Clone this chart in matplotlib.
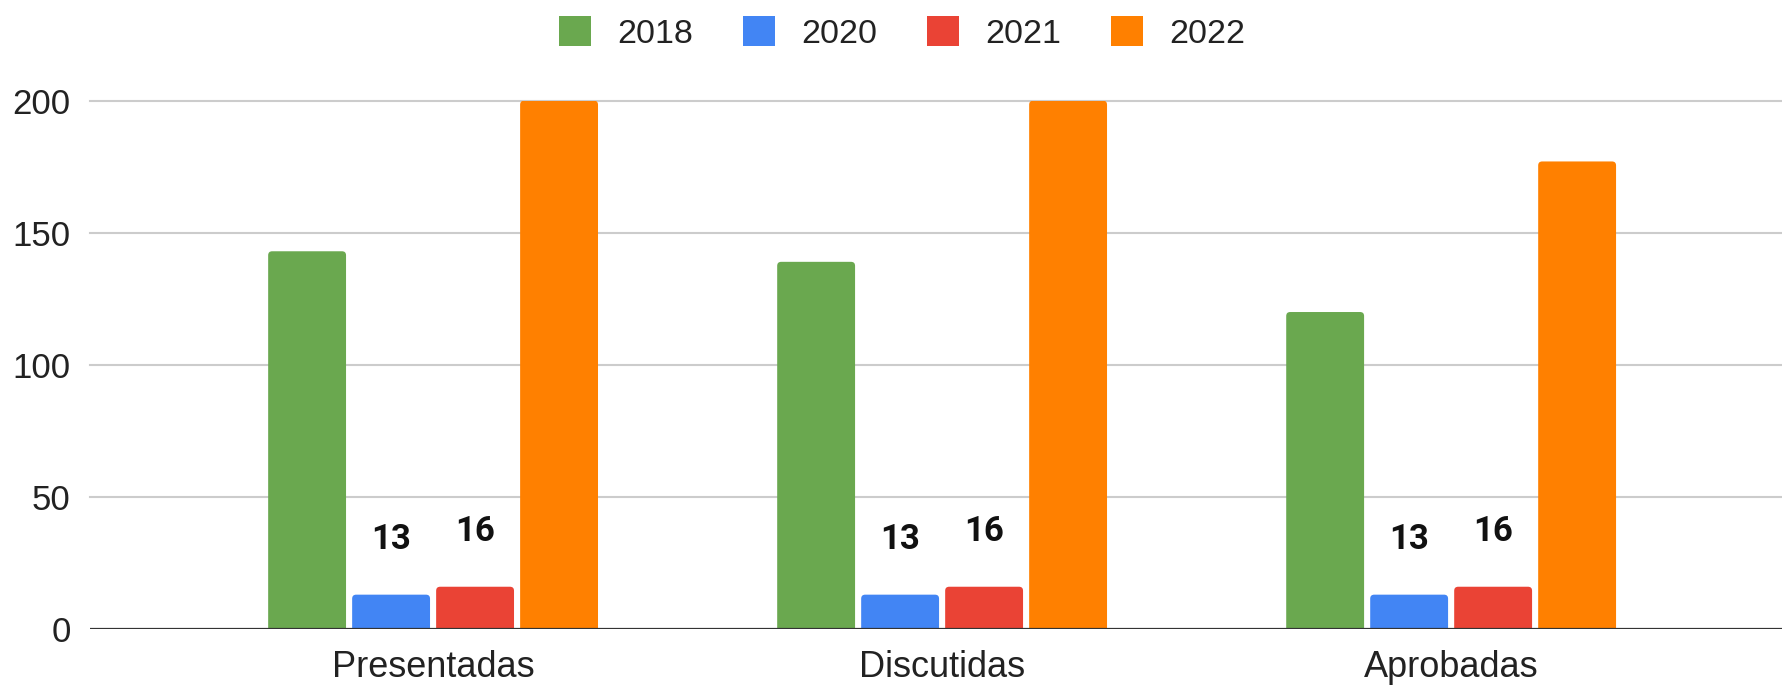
import matplotlib
matplotlib.use("Agg")
import matplotlib.pyplot as plt
from matplotlib.patches import FancyBboxPatch, Patch
import numpy as np

categories = ["Presentadas", "Discutidas", "Aprobadas"]
series_names = ["2018", "2020", "2021", "2022"]
v2018 = [143, 139, 120]
v2020 = [13, 13, 13]
v2021 = [16, 16, 16]
v2022 = [200, 200, 177]
labelled = ["2020", "2021"]
colors = ["#6aa84f", "#4285f4", "#ea4335", "#ff8000"]
yticks = [0, 50, 100, 150, 200]

values = [v2018, v2020, v2021, v2022]

fig = plt.figure(figsize=(17.82, 6.88), dpi=100)
ax = fig.add_axes([90/1782, 59/688, 1 - 90/1782, (688 - 100.7 - 59)/688])

x = np.arange(len(categories))
step = 0.165
width = 0.153
ax.set_ylim(0, 200)
ax.set_xlim(-0.674, 2.650)

px_x = (1782 - 90) / (2.650 + 0.674)
px_y = (688 - 100.7 - 59) / 200.0
radius_px = 4
rs = radius_px / px_x
aspect = px_x / px_y

for i, (name, vals, col) in enumerate(zip(series_names, values, colors)):
    bars = ax.bar(x + (i - 1.5) * step, vals, width, color=col, label=name, zorder=3)
    for r in bars:
        r.set_visible(False)
        p = FancyBboxPatch((r.get_x(), -5), r.get_width(), r.get_height() + 5,
                           boxstyle=f"round,pad=0,rounding_size={rs}",
                           mutation_aspect=aspect, facecolor=col, edgecolor="none",
                           zorder=3)
        ax.add_patch(p)
        if name in labelled:
            ax.annotate(f"{int(r.get_height())}", (r.get_x() + r.get_width()/2, r.get_height()),
                        xytext=(0, 40), textcoords="offset points", ha="center", va="center",
                        fontsize=25, fontweight="bold", family="Roboto", color="#111111", zorder=5)

ax.set_yticks(yticks)
ax.set_yticklabels([str(t) for t in yticks], family="Liberation Sans", fontsize=25, color="#222222")
ax.set_xticks(x)
ax.set_xticklabels(categories, family="Liberation Sans", fontsize=26, color="#222222")
ax.tick_params(axis="y", length=0, pad=14)
ax.tick_params(axis="x", length=0, pad=15)

for t in yticks[1:]:
    ax.axhline(t, color="#cccccc", linewidth=1.5, zorder=1, clip_on=False)
ax.axhline(0, color="#333333", linewidth=1.6, zorder=4)

for s in ax.spines.values():
    s.set_visible(False)

leg_handles = [Patch(facecolor=c, edgecolor="none") for c in colors]
fig.legend(leg_handles, series_names, loc="center", bbox_to_anchor=(902/1782, 1 - 33/688),
           ncol=4, frameon=False, prop={"family": "Liberation Sans", "size": 24.5},
           handlelength=0.95, handleheight=0.95, handletextpad=0.76, columnspacing=1.47,
           labelcolor="#222222")

fig.savefig("out.png", dpi=100)
